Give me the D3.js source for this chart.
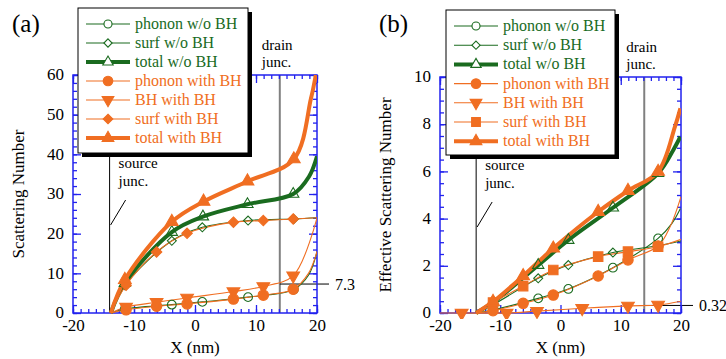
<!DOCTYPE html>
<html><head><meta charset="utf-8">
<script src="https://cdn.jsdelivr.net/npm/d3@7"></script>
<style>body{margin:0;background:#fff}svg{display:block}svg text{font-family:"Liberation Serif",serif}</style>
</head><body>
<script>
// ---------- data (x in nm, y values) ----------
// Panel (a): Scattering Number
const aPhononWo = [[-13.8,0],[-11.5,1.0],[-3.8,2.1],[1.2,2.8],[8.7,4.0],[16.2,5.9],[18.6,9.5],[20,15.5]];
const aSurfWo   = [[-13.8,0],[-11.5,7.0],[-3.8,18.2],[1.2,21.6],[8.7,23.3],[16.2,23.7],[20,24]];
const aTotalWo  = [[-13.8,0],[-11.5,7.5],[-3.8,20.4],[1.3,24.3],[8.6,27.4],[16.1,30.0],[18.7,34.4],[20,39.5]];
const aPhononW  = [[-13.8,0],[-11.3,0.8],[-6.3,1.7],[-1.3,2.3],[6.3,3.5],[11.2,4.5],[16.1,6.0],[18.6,10],[20,15.5]];
const aBHW      = [[-13.8,0],[-11.3,1.5],[-6.3,2.7],[-1.3,3.8],[6.3,5.4],[11.2,6.7],[16.1,9.4],[20,24]];
const aSurfW    = [[-13.8,0],[-11.3,7.0],[-6.3,15.4],[-1.3,20.1],[6.3,22.9],[11.2,23.3],[16.1,23.7],[20,24]];
const aTotalW   = [[-13.8,0],[-11.5,8.4],[-3.8,23.0],[1.4,28.1],[8.6,33.2],[16.2,38.8],[19.0,54],[19.8,60]];
// marker index ranges [first,last]
const aMarksWo = [1,5];
const aMarksW  = [1,6];
const aMarksTotalW = [1,5];

// Panel (b): Effective Scattering Number
const bPhononWo = [[-14,0],[-11.2,0.13],[-3.7,0.62],[1.3,1.02],[8.7,1.92],[16.2,3.16],[18.5,3.8],[19.9,4.43]];
const bSurfWo   = [[-14,0],[-11.2,0.35],[-3.7,1.47],[1.3,2.03],[8.7,2.56],[16.2,2.85],[20,3.05]];
const bTotalWo  = [[-14,0],[-11.2,0.45],[-3.7,2.03],[1.3,3.09],[8.7,4.46],[16.2,5.92],[18.7,6.9],[19.9,7.47]];
const bPhononW  = [[-14,0],[-11.2,0.1],[-6.2,0.41],[-1.2,0.76],[6.25,1.57],[11.2,2.25],[16.2,2.84],[18.2,3.66],[20,4.93]];
const bBHW      = [[-20,0],[-16.4,0],[-8.95,0],[-3.9,0.08],[3.6,0.2],[11.2,0.3],[16.2,0.34],[20,0.5]];
const bSurfW    = [[-14,0],[-11.2,0.44],[-6.2,1.14],[-1.2,1.82],[6.25,2.39],[11.2,2.6],[16.2,2.81],[20,3.12]];
const bTotalW   = [[-14,0],[-11.2,0.48],[-6.2,1.57],[-1.2,2.74],[6.25,4.29],[11.2,5.18],[16.2,5.99],[19.0,7.9],[19.9,8.67]];
const bMarksWo = [1,5];
const bMarksW  = [1,6];
const bMarksBH = [1,6];

const xTicks = [-20,-10,0,10,20];
const aYTicks = [0,10,20,30,40,50,60];
const bYTicks = [0,2,4,6,8,10];
const legendLabels = ["phonon w/o BH","surf w/o BH","total w/o BH","phonon with BH","BH with BH","surf with BH","total with BH"];
const junctions = [-14, 13.9];
const aMarkValue = 7.3, bMarkValue = 0.32;

// ---------- styles ----------
const ORANGE = "#f06e22", GREEN = "#1a6b1f", BLUE = "#2222ee";
const FONT = '"Liberation Serif", serif';
const W = 726, H = 359;
const svg = d3.select("body").append("svg").attr("width", W).attr("height", H);

function sym(type, size) { return d3.symbol().type(type).size(size)(); }
const downTri = { draw(ctx, size) { const s = Math.sqrt(size*4/Math.sqrt(3)); const h = s*Math.sqrt(3)/2;
  ctx.moveTo(-s/2, -h/3); ctx.lineTo(s/2, -h/3); ctx.lineTo(0, 2*h/3); ctx.closePath(); } };
const upTri = { draw(ctx, size) { const s = Math.sqrt(size*4/Math.sqrt(3)); const h = s*Math.sqrt(3)/2;
  ctx.moveTo(-s/2, h/3); ctx.lineTo(s/2, h/3); ctx.lineTo(0, -2*h/3); ctx.closePath(); } };
const diamond = { draw(ctx, size) { const r = Math.sqrt(size/2);
  ctx.moveTo(0, -r); ctx.lineTo(r, 0); ctx.lineTo(0, r); ctx.lineTo(-r, 0); ctx.closePath(); } };

function drawPanel(cfg) {
  const g = svg.append("g");
  const x = d3.scaleLinear().domain([-20,20]).range([cfg.left, cfg.right]);
  const y = d3.scaleLinear().domain([0, cfg.ymax]).range([cfg.bottom, cfg.top]);
  const clipId = "clip" + cfg.id;
  svg.append("clipPath").attr("id", clipId).append("rect")
    .attr("x", cfg.left).attr("y", cfg.top - 2).attr("width", cfg.right - cfg.left).attr("height", cfg.bottom - cfg.top + 8);

  // junction lines
  g.append("line").attr("x1", x(junctions[0])).attr("x2", x(junctions[0])).attr("y1", cfg.top).attr("y2", cfg.bottom)
    .attr("stroke", "#000").attr("stroke-width", 1);
  g.append("line").attr("x1", x(junctions[1])).attr("x2", x(junctions[1])).attr("y1", cfg.top).attr("y2", cfg.bottom)
    .attr("stroke", "#808080").attr("stroke-width", 2);

  // annotation line
  g.append("line").attr("x1", x(junctions[1])).attr("x2", cfg.right + 12).attr("y1", y(cfg.markValue)).attr("y2", y(cfg.markValue))
    .attr("stroke", "#000").attr("stroke-width", 1);
  g.append("text").attr("x", cfg.right + 18).attr("y", y(cfg.markValue) + 6).attr("font-size", 16).text(String(cfg.markValue));

  // axes (inward ticks on all sides)
  const minorX = d3.range(-20, 20.01, 1.25);
  const minorY = d3.range(0, cfg.ymax + 1e-6, cfg.yMinor);
  const fmt = d => String(d);
  const ax = (axis, tx, ty) => {
    const a = g.append("g").attr("transform", `translate(${tx},${ty})`).call(axis);
    a.attr("font-family", FONT);
    a.selectAll("line").attr("stroke", BLUE).attr("stroke-width", 1.3);
    a.select(".domain").remove();
    a.selectAll("text").attr("font-size", 17).attr("fill", "#000");
    return a;
  };
  ax(d3.axisBottom(x).tickValues(minorX).tickSize(-4).tickFormat(""), 0, cfg.bottom);
  ax(d3.axisTop(x).tickValues(minorX).tickSize(-4).tickFormat(""), 0, cfg.top);
  ax(d3.axisLeft(y).tickValues(minorY).tickSize(-4).tickFormat(""), cfg.left, 0);
  ax(d3.axisRight(y).tickValues(minorY).tickSize(-4).tickFormat(""), cfg.right, 0);
  ax(d3.axisBottom(x).tickValues(xTicks).tickSize(-8).tickPadding(6).tickFormat(fmt), 0, cfg.bottom);
  ax(d3.axisTop(x).tickValues(xTicks).tickSize(-8).tickFormat(""), 0, cfg.top);
  const yl = ax(d3.axisLeft(y).tickValues(cfg.yTicks).tickSize(-8).tickPadding(9).tickFormat(fmt), cfg.left, 0);
  yl.selectAll("text").attr("dy", "0.28em");
  ax(d3.axisRight(y).tickValues(cfg.yTicks).tickSize(-8).tickFormat(""), cfg.right, 0);
  g.append("rect").attr("x", cfg.left).attr("y", cfg.top).attr("width", cfg.right - cfg.left).attr("height", cfg.bottom - cfg.top)
    .attr("fill", "none").attr("stroke", BLUE).attr("stroke-width", 1.5);

  // series
  const line = d3.line().x(d => x(d[0])).y(d => y(d[1])).curve(d3.curveCatmullRom.alpha(0.5));
  const plot = g.append("g").attr("clip-path", `url(#${clipId})`);
  cfg.series.forEach(s => {
    plot.append("path").attr("d", line(s.data)).attr("fill", "none").attr("stroke", s.color)
      .attr("stroke-width", s.thick ? 4 : 1.1).attr("stroke-linejoin", "round");
  });
  cfg.series.forEach(s => {
    const pts = s.data.slice(s.marks[0], s.marks[1] + 1);
    plot.selectAll(null).data(pts).join("path")
      .attr("transform", d => `translate(${x(d[0])},${y(d[1])})`)
      .attr("d", sym(s.sym, s.size))
      .attr("fill", s.filled ? s.color : "#fff").attr("fill-opacity", s.filled ? 1 : 0)
      .attr("stroke", s.color).attr("stroke-width", 1.1);
  });

  // text annotations
  g.append("text").attr("x", cfg.left - 61).attr("y", 32).attr("font-size", 25).text(cfg.tag);
  const jx = x(junctions[0]);
  g.append("text").attr("x", jx + 9).attr("y", cfg.srcY).attr("font-size", 15).text("source");
  g.append("text").attr("x", jx + 9).attr("y", cfg.srcY + 18).attr("font-size", 15).text("junc.");
  g.append("line").attr("x1", jx + 16).attr("y1", cfg.srcY + 32).attr("x2", jx + 1).attr("y2", cfg.srcY + 57)
    .attr("stroke", "#000").attr("stroke-width", 1);
  const dx = x(junctions[1]);
  g.append("text").attr("x", dx - 18).attr("y", cfg.top - 25).attr("font-size", 15).text("drain");
  g.append("text").attr("x", dx - 18).attr("y", cfg.top - 8).attr("font-size", 15).text("junc.");

  // axis titles
  g.append("text").attr("x", (cfg.left + cfg.right) / 2).attr("y", 353).attr("text-anchor", "middle").attr("font-size", 17).text("X (nm)");
  g.append("text").attr("transform", `translate(${cfg.yTitleX},${(cfg.top + cfg.bottom) / 2}) rotate(-90)`)
    .attr("text-anchor", "middle").attr("font-size", 17).text(cfg.yTitle);

  // legend
  const L = cfg.legend;
  g.append("rect").attr("x", L.x + 4).attr("y", L.y + 4).attr("width", L.w).attr("height", L.h).attr("fill", "#000");
  g.append("rect").attr("x", L.x).attr("y", L.y).attr("width", L.w).attr("height", L.h).attr("fill", "#fff").attr("stroke", "#000").attr("stroke-width", 1);
  cfg.series.forEach((s, i) => {
    const ry = L.y + 16 + i * L.dy;
    g.append("line").attr("x1", L.x + 8).attr("x2", L.x + 52).attr("y1", ry).attr("y2", ry)
      .attr("stroke", s.color).attr("stroke-width", s.thick ? 4 : 1.1);
    g.append("path").attr("transform", `translate(${L.x + 30},${ry})`).attr("d", sym(s.sym, s.size * 0.85))
      .attr("fill", s.filled ? s.color : "#fff").attr("stroke", s.color).attr("stroke-width", 1.1);
    g.append("text").attr("x", L.x + 57).attr("y", ry + 5).attr("font-size", 16).attr("fill", s.color).text(legendLabels[i]);
  });
}

drawPanel({
  id: "a", tag: "(a)", left: 73, right: 317, top: 75, bottom: 313, ymax: 60, yMinor: 2, yTicks: aYTicks,
  markValue: aMarkValue, srcY: 168, yTitle: "Scattering Number", yTitleX: 24,
  legend: { x: 78, y: 8, w: 170, h: 145, dy: 19 },
  series: [
    { data: aPhononWo, color: GREEN, sym: d3.symbolCircle, size: 60, filled: false, marks: aMarksWo },
    { data: aSurfWo, color: GREEN, sym: diamond, size: 40, filled: false, marks: aMarksWo },
    { data: aTotalWo, color: GREEN, sym: upTri, size: 55, filled: false, thick: true, marks: aMarksWo },
    { data: aPhononW, color: ORANGE, sym: d3.symbolCircle, size: 85, filled: true, marks: aMarksW },
    { data: aBHW, color: ORANGE, sym: downTri, size: 70, filled: true, marks: aMarksW },
    { data: aSurfW, color: ORANGE, sym: diamond, size: 55, filled: true, marks: aMarksW },
    { data: aTotalW, color: ORANGE, sym: upTri, size: 70, filled: true, thick: true, marks: aMarksTotalW }
  ]
});

drawPanel({
  id: "b", tag: "(b)", left: 440, right: 681, top: 77, bottom: 313, ymax: 10, yMinor: 0.5, yTicks: bYTicks,
  markValue: bMarkValue, srcY: 170, yTitle: "Effective Scattering Number", yTitleX: 391,
  legend: { x: 446, y: 10, w: 169, h: 145, dy: 19.2 },
  series: [
    { data: bPhononWo, color: GREEN, sym: d3.symbolCircle, size: 60, filled: false, marks: bMarksWo },
    { data: bSurfWo, color: GREEN, sym: diamond, size: 40, filled: false, marks: bMarksWo },
    { data: bTotalWo, color: GREEN, sym: upTri, size: 55, filled: false, thick: true, marks: bMarksWo },
    { data: bPhononW, color: ORANGE, sym: d3.symbolCircle, size: 85, filled: true, marks: bMarksW },
    { data: bBHW, color: ORANGE, sym: downTri, size: 70, filled: true, marks: bMarksBH },
    { data: bSurfW, color: ORANGE, sym: d3.symbolSquare, size: 90, filled: true, marks: bMarksW },
    { data: bTotalW, color: ORANGE, sym: upTri, size: 70, filled: true, thick: true, marks: bMarksW }
  ]
});
</script>
</body></html>
